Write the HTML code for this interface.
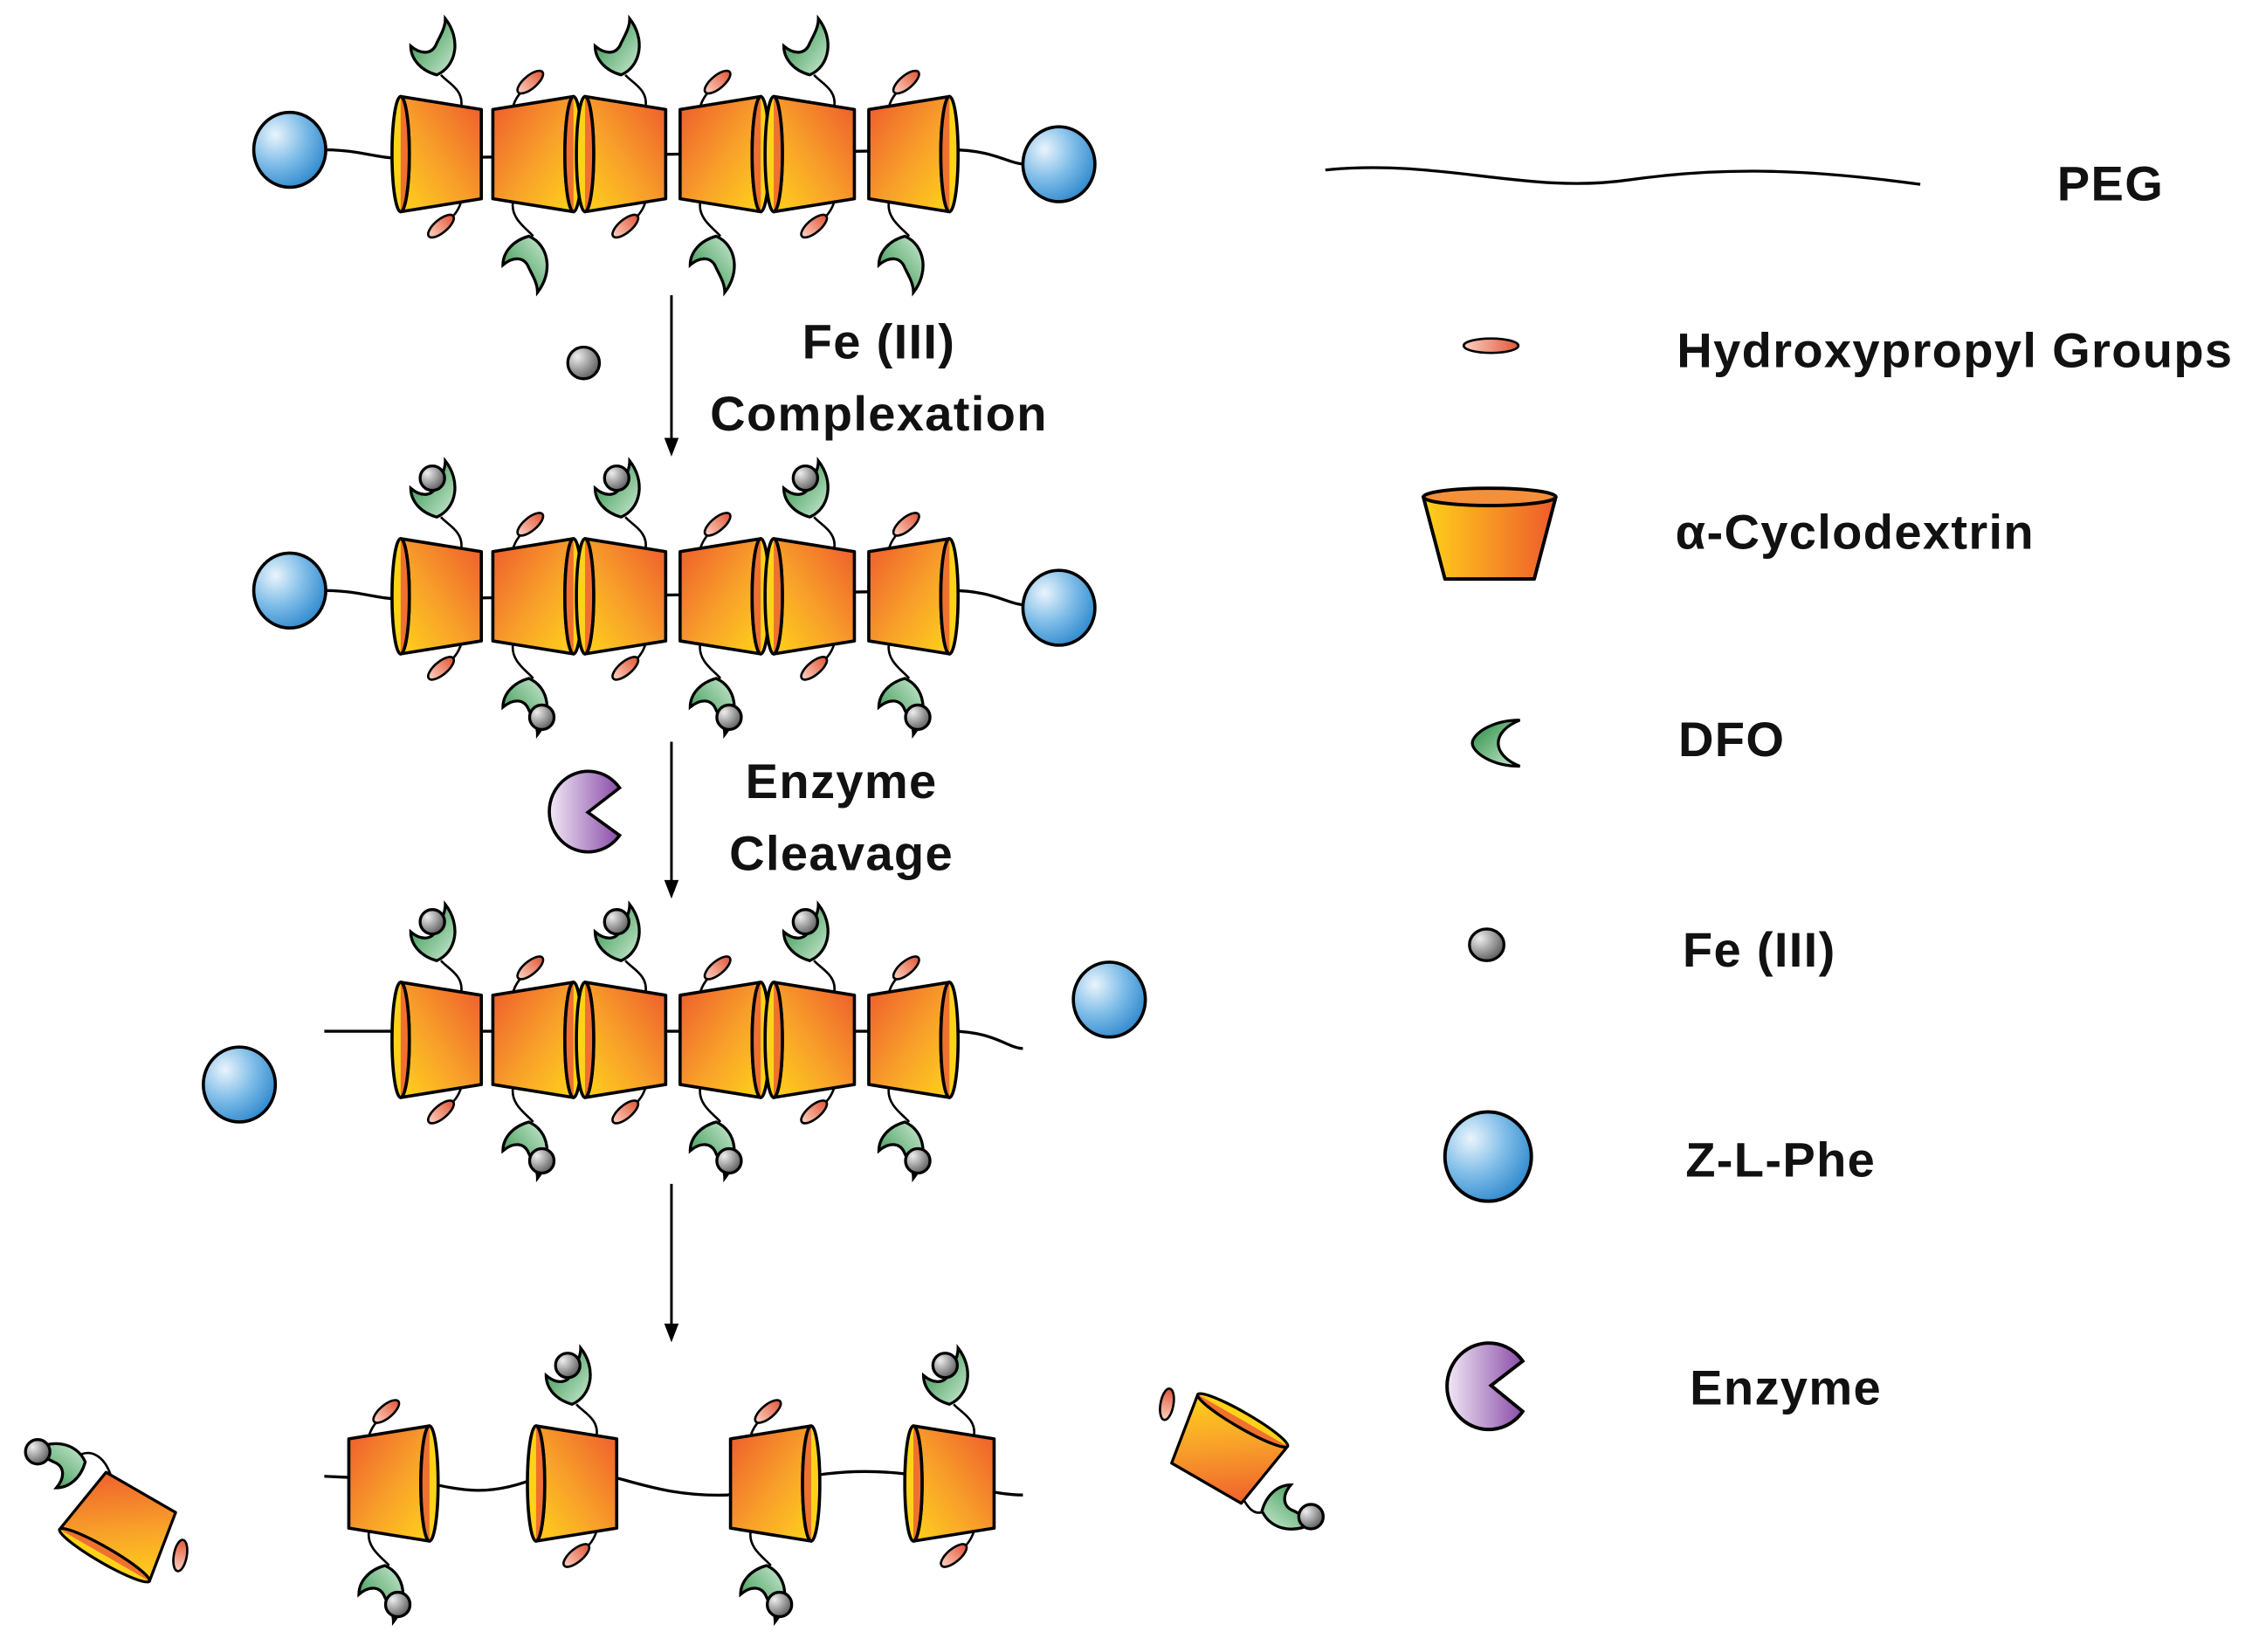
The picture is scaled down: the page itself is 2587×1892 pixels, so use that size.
<!DOCTYPE html>
<html><head><meta charset="utf-8"><style>
html,body{margin:0;padding:0;background:#fff;}
svg{display:block;}
text{font-family:"Liberation Sans",sans-serif;font-weight:bold;font-size:34px;letter-spacing:0.8px;fill:#111;}
</style></head><body>
<svg width="2587" height="1892" viewBox="0 0 1568 1147" xmlns="http://www.w3.org/2000/svg">
<defs>
<linearGradient id="cg" x1="1" y1="0" x2="0" y2="1"><stop offset="0" stop-color="#ee5a2c"/><stop offset="0.55" stop-color="#f8a02a"/><stop offset="1" stop-color="#ffd21a"/></linearGradient>
<linearGradient id="cg2" x1="0" y1="0" x2="1" y2="0"><stop offset="0" stop-color="#ffd21a"/><stop offset="1" stop-color="#ee5a2c"/></linearGradient>
<radialGradient id="bg" cx="0.3" cy="0.3" r="0.8"><stop offset="0" stop-color="#eaf4fc"/><stop offset="0.5" stop-color="#7fbde8"/><stop offset="1" stop-color="#2b86cc"/></radialGradient>
<radialGradient id="fg" cx="0.3" cy="0.3" r="0.8"><stop offset="0" stop-color="#eee"/><stop offset="1" stop-color="#555"/></radialGradient>
<linearGradient id="gg" x1="0" y1="0" x2="1" y2="1"><stop offset="0" stop-color="#238a3e"/><stop offset="1" stop-color="#cdebd3"/></linearGradient>
<linearGradient id="pg" x1="0" y1="0" x2="1" y2="0"><stop offset="0" stop-color="#f1e8f6"/><stop offset="1" stop-color="#8a4ca8"/></linearGradient>
<linearGradient id="rg" x1="0" y1="0" x2="1" y2="0"><stop offset="0" stop-color="#fbd0c0"/><stop offset="1" stop-color="#e2583a"/></linearGradient>

<g id="coneL">
<polygon points="-28,-40 28,-31 28,31 -28,40" fill="url(#cg)" stroke="#000" stroke-width="2.2" stroke-linejoin="round"/>
<ellipse cx="-28" cy="0" rx="6" ry="40" fill="#ffd21a" stroke="#000" stroke-width="2.2"/>
<path d="M-28,-40 A6,40 0 0 1 -28,40" fill="#f07030" stroke="#000" stroke-width="2.2"/>
</g>
<g id="coneR"><use href="#coneL" transform="scale(-1,1)"/></g>

<path id="cres" d="M3,-22 C14,-8 11,11 -3,17 C-14,14 -21,6 -21,-3 C-14,3 -6,3 -3,-5 C0,-11 3,-16 3,-22Z" fill="url(#gg)" stroke="#000" stroke-width="2"/>
<ellipse id="hp" cx="0" cy="0" rx="11" ry="4.5" fill="url(#rg)" stroke="#000" stroke-width="1.6"/>
<circle id="fe" cx="0" cy="0" r="8.5" fill="url(#fg)" stroke="#000" stroke-width="2"/>

<g id="unitL">
<path d="M14,-33 C16,-45 4,-50 0,-55" fill="none" stroke="#000" stroke-width="1.6"/>
<use href="#cres" transform="translate(0,-72)"/>
<path d="M14,33 C12,40 8,44 4,47" fill="none" stroke="#000" stroke-width="1.6"/>
<use href="#hp" transform="translate(0,50) rotate(-40)"/>
<use href="#coneL"/>
</g>
<g id="unitR">
<path d="M-14,33 C-16,45 -4,52 0,57" fill="none" stroke="#000" stroke-width="1.6"/>
<use href="#cres" transform="translate(0,74) scale(1,-1)"/>
<path d="M-14,-33 C-12,-40 -8,-44 -4,-47" fill="none" stroke="#000" stroke-width="1.6"/>
<use href="#hp" transform="translate(-2,-50) rotate(-40)"/>
<use href="#coneR"/>
</g>
<g id="unitLF"><use href="#unitL"/><use href="#fe" transform="translate(-6,-82)"/></g>
<g id="unitRF"><use href="#unitR"/><use href="#fe" transform="translate(6,84)"/></g>
</defs>

<!-- Row 1 -->
<path d="M225,104 C250,104 260,110 280,110 L660,104 C690,104 700,114 712,114" fill="none" stroke="#000" stroke-width="2"/>
<ellipse cx="201" cy="104" rx="25" ry="26" fill="url(#bg)" stroke="#000" stroke-width="2.2"/>
<ellipse cx="735" cy="114" rx="25" ry="26" fill="url(#bg)" stroke="#000" stroke-width="2.2"/>
<use href="#unitL" transform="translate(306,107)"/>
<use href="#unitR" transform="translate(370,107)"/>
<use href="#unitL" transform="translate(434,107)"/>
<use href="#unitR" transform="translate(500,107)"/>
<use href="#unitL" transform="translate(565,107)"/>
<use href="#unitR" transform="translate(631,107)"/>

<!-- Row 2 -->
<path d="M225,410 C250,410 260,416 280,416 L660,410 C690,410 700,420 712,420" fill="none" stroke="#000" stroke-width="2"/>
<ellipse cx="201" cy="410" rx="25" ry="26" fill="url(#bg)" stroke="#000" stroke-width="2.2"/>
<ellipse cx="735" cy="422" rx="25" ry="26" fill="url(#bg)" stroke="#000" stroke-width="2.2"/>
<use href="#unitLF" transform="translate(306,414)"/>
<use href="#unitRF" transform="translate(370,414)"/>
<use href="#unitLF" transform="translate(434,414)"/>
<use href="#unitRF" transform="translate(500,414)"/>
<use href="#unitLF" transform="translate(565,414)"/>
<use href="#unitRF" transform="translate(631,414)"/>

<!-- Row 3 -->
<path d="M225,716 L660,716 C690,716 700,728 710,728" fill="none" stroke="#000" stroke-width="2"/>
<ellipse cx="166" cy="753" rx="25" ry="26" fill="url(#bg)" stroke="#000" stroke-width="2.2"/>
<ellipse cx="770" cy="694" rx="25" ry="26" fill="url(#bg)" stroke="#000" stroke-width="2.2"/>
<use href="#unitLF" transform="translate(306,722)"/>
<use href="#unitRF" transform="translate(370,722)"/>
<use href="#unitLF" transform="translate(434,722)"/>
<use href="#unitRF" transform="translate(500,722)"/>
<use href="#unitLF" transform="translate(565,722)"/>
<use href="#unitRF" transform="translate(631,722)"/>

<!-- Row 4 -->
<path d="M225,1025 L290,1028 C320,1035 340,1040 375,1025 C420,1012 440,1040 505,1038 C540,1030 580,1015 640,1025 C665,1030 690,1038 710,1038" fill="none" stroke="#000" stroke-width="2"/>
<use href="#unitRF" transform="translate(270,1030)"/>
<use href="#unitLF" transform="translate(400,1030)"/>
<use href="#unitRF" transform="translate(535,1030)"/>
<use href="#unitLF" transform="translate(662,1030)"/>

<!-- free cones -->
<path d="M52,1012 C62,1005 72,1010 77,1025" fill="none" stroke="#000" stroke-width="1.6"/>
<use href="#cres" transform="translate(42,1012) rotate(-90)"/>
<use href="#fe" transform="translate(26,1008)"/>
<use href="#hp" transform="translate(125,1080) rotate(-80)"/>
<use href="#coneL" transform="translate(85,1058) rotate(-60) scale(0.9)"/>

<path d="M880,1048 C870,1055 865,1045 860,1035" fill="none" stroke="#000" stroke-width="1.6"/>
<use href="#cres" transform="translate(893,1052) rotate(90)"/>
<use href="#fe" transform="translate(910,1053)"/>
<use href="#hp" transform="translate(810,975) rotate(-80)"/>
<use href="#coneL" transform="translate(850,1008) rotate(120) scale(0.9)"/>

<!-- arrows -->
<g stroke="#000" stroke-width="1.8">
<line x1="466" y1="205" x2="466" y2="310"/>
<line x1="466" y1="515" x2="466" y2="617"/>
<line x1="466" y1="822" x2="466" y2="925"/>
</g>
<g fill="#000">
<polygon points="461,304 471,304 466,317"/>
<polygon points="461,611 471,611 466,624"/>
<polygon points="461,919 471,919 466,932"/>
</g>
<circle cx="405" cy="252" r="11" fill="url(#fg)" stroke="#000" stroke-width="2"/>
<path d="M430,547 A27,28 0 1 0 430,580 L408,564 Z" fill="url(#pg)" stroke="#000" stroke-width="2.2"/>
<text x="610" y="249" text-anchor="middle">Fe (III)</text>
<text x="610" y="299" text-anchor="middle">Complexation</text>
<text x="584" y="554" text-anchor="middle">Enzyme</text>
<text x="584" y="604" text-anchor="middle">Cleavage</text>

<!-- legend -->
<path d="M920,118 C1000,110 1060,135 1130,125 C1200,115 1260,118 1333,128" fill="none" stroke="#000" stroke-width="2"/>
<text x="1428" y="139">PEG</text>
<ellipse cx="1035" cy="240" rx="19" ry="5" fill="url(#rg)" stroke="#000" stroke-width="1.6"/>
<text x="1164" y="255">Hydroxypropyl Groups</text>
<polygon points="988,345 1080,345 1065,402 1003,402" fill="url(#cg2)" stroke="#000" stroke-width="2.4" stroke-linejoin="round"/>
<ellipse cx="1034" cy="345" rx="46" ry="6" fill="#f5903a" stroke="#000" stroke-width="2.4"/>
<text x="1163" y="381">α-Cyclodextrin</text>
<path d="M1055,500 C1035,500 1022,510 1022,516 C1022,522 1035,532 1055,532 C1045,528 1040,522 1040,516 C1040,510 1045,504 1055,500Z" fill="url(#gg)" stroke="#000" stroke-width="2"/>
<text x="1165" y="525">DFO</text>
<ellipse cx="1032" cy="656" rx="12" ry="11" fill="url(#fg)" stroke="#000" stroke-width="2"/>
<text x="1168" y="671">Fe (III)</text>
<ellipse cx="1033" cy="803" rx="30" ry="31" fill="url(#bg)" stroke="#000" stroke-width="2.4"/>
<text x="1170" y="817">Z-L-Phe</text>
<path d="M1057,945 A29,30 0 1 0 1057,980 L1035,962 Z" fill="url(#pg)" stroke="#000" stroke-width="2.4"/>
<text x="1173" y="975">Enzyme</text>
</svg>
</body></html>
